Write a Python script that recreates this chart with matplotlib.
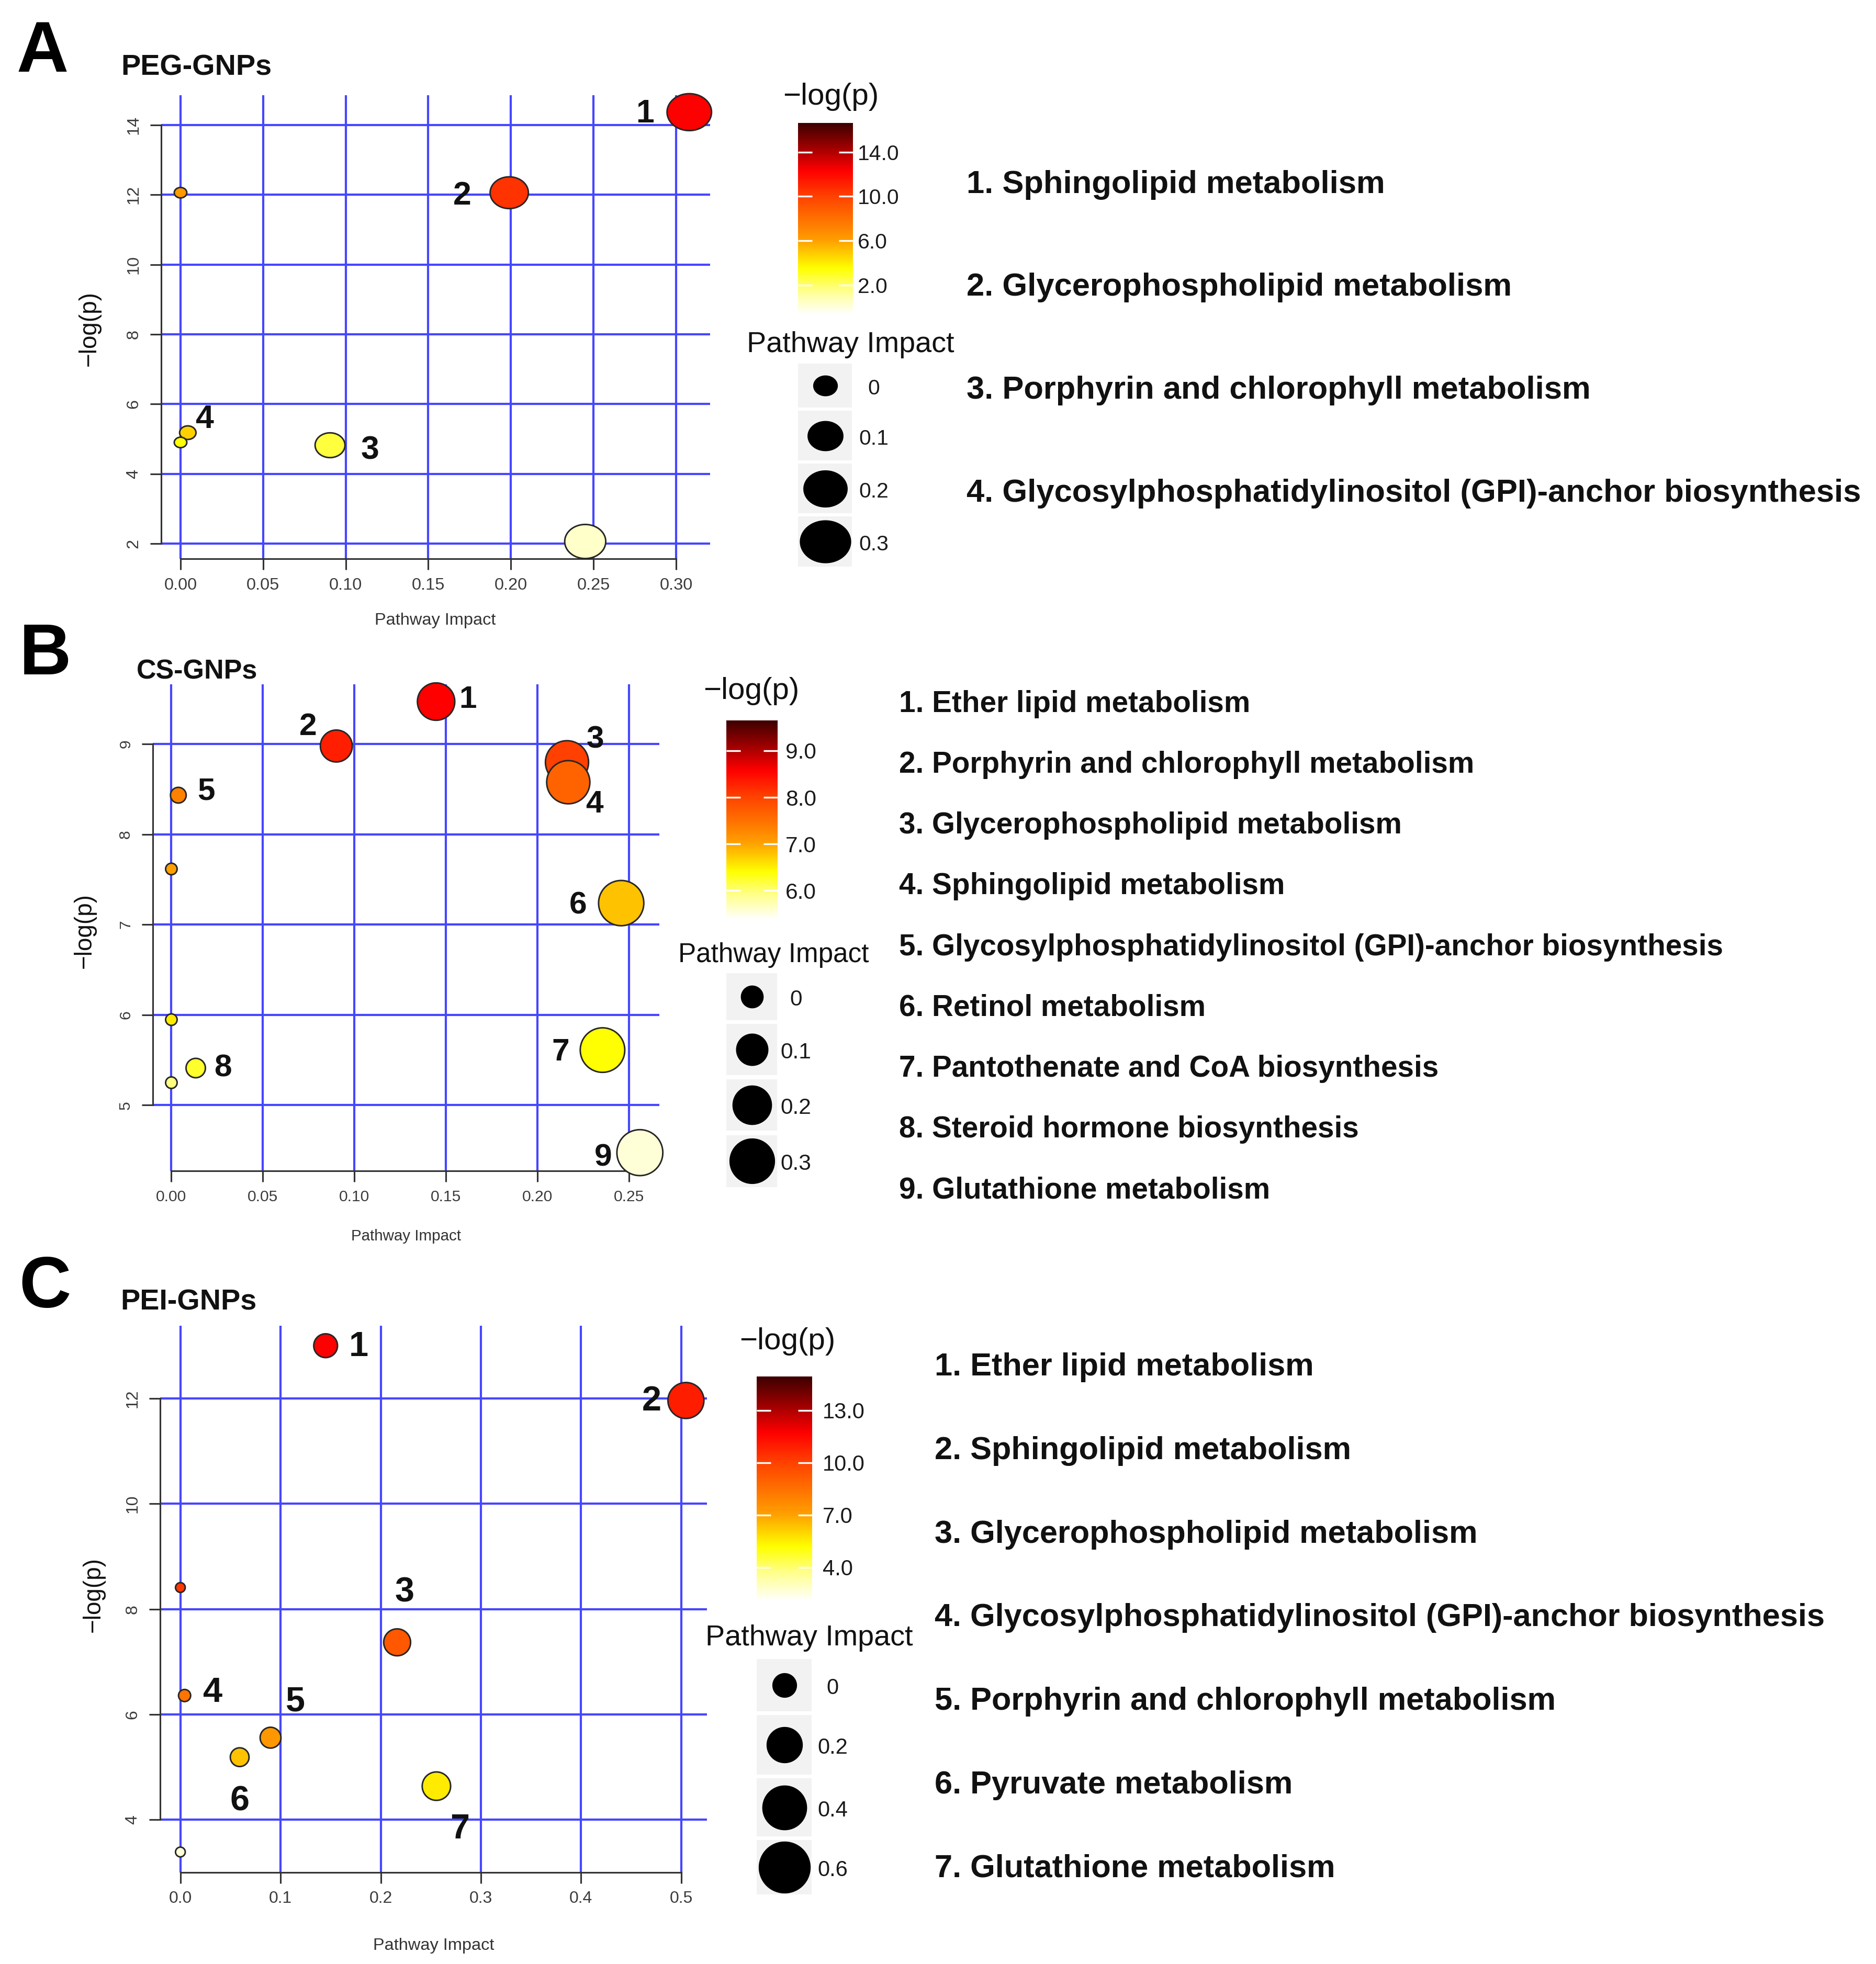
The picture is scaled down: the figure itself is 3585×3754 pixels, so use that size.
#!/usr/bin/env python3

import numpy as np
import matplotlib
matplotlib.use('Agg')
import matplotlib.pyplot as plt
from matplotlib.colors import LinearSegmentedColormap, Normalize
from matplotlib.cm import ScalarMappable
from matplotlib.path import Path
from matplotlib.patches import Rectangle

plt.rcParams['font.family'] = ['Liberation Sans', 'DejaVu Sans']

W, H, DPI = 3585, 3754, 300
PT = 72 / DPI  # points per pixel

# ---------------- data ----------------
# A: PEG-GNPs  (points drawn in order of decreasing -log(p))
impact_A = [0.308, 0.199, 0.0, 0.0044, 0.0, 0.0905, 0.245]
logp_A = [14.37, 12.06, 12.06, 5.18, 4.90, 4.82, 2.06]
cval_A = [12.31, 10.51, 6.26, 4.70, 3.40, 2.63, 0.38]   # colour read against the colour bar
tags_A = ['1', '2', '', '4', '', '3', '']
names_A = ['1. Sphingolipid metabolism',
           '2. Glycerophospholipid metabolism',
           '3. Porphyrin and chlorophyll metabolism',
           '4. Glycosylphosphatidylinositol (GPI)-anchor biosynthesis']
cticks_A = [2, 6, 10, 14]
svals_A = [0, 0.1, 0.2, 0.3]

# B: CS-GNPs
impact_B = [0.1446, 0.0901, 0.2161, 0.2168, 0.0038, 0.0, 0.2457, 0.0, 0.2355, 0.0133, 0.0, 0.2559]
logp_B = [9.469, 8.977, 8.797, 8.576, 8.432, 7.615, 7.237, 5.946, 5.609, 5.41, 5.248, 4.473]
cval_B = [8.58, 8.30, 8.02, 7.66, 7.34, 7.03, 6.80, 6.53, 6.40, 6.25, 5.94, 5.56]
tags_B = ['1', '2', '3', '4', '5', '', '6', '', '7', '8', '', '9']
names_B = ['1. Ether lipid metabolism',
           '2. Porphyrin and chlorophyll metabolism',
           '3. Glycerophospholipid metabolism',
           '4. Sphingolipid metabolism',
           '5. Glycosylphosphatidylinositol (GPI)-anchor biosynthesis',
           '6. Retinol metabolism',
           '7. Pantothenate and CoA biosynthesis',
           '8. Steroid hormone biosynthesis',
           '9. Glutathione metabolism']
cticks_B = [6, 7, 8, 9]
svals_B = [0, 0.1, 0.2, 0.3]

# C: PEI-GNPs
impact_C = [0.145, 0.5047, 0.0, 0.2164, 0.0042, 0.090, 0.0592, 0.2556, 0.0]
logp_C = [13.00, 11.96, 8.41, 7.37, 6.36, 5.56, 5.19, 4.64, 3.39]
cval_C = [11.72, 10.94, 10.24, 9.27, 8.37, 7.28, 6.38, 5.54, 2.65]
tags_C = ['1', '2', '', '3', '4', '5', '6', '7', '']
names_C = ['1. Ether lipid metabolism',
           '2. Sphingolipid metabolism',
           '3. Glycerophospholipid metabolism',
           '4. Glycosylphosphatidylinositol (GPI)-anchor biosynthesis',
           '5. Porphyrin and chlorophyll metabolism',
           '6. Pyruvate metabolism',
           '7. Glutathione metabolism']
cticks_C = [4, 7, 10, 13]
svals_C = [0, 0.2, 0.4, 0.6]

# ---------------- layout (pixel positions in the 3585x3754 canvas) ----------------
panels = [
    dict(letter=('A', 32, 137), title=('PEG-GNPs', 231, 143, 13.4),
         axes=(308, 182, 1357, 1068), xlim=(-0.01172, 0.3206), ylim=(1.565, 14.855),
         xticks=[0, 0.05, 0.10, 0.15, 0.20, 0.25, 0.30], xfmt='%.2f',
         yticks=[2, 4, 6, 8, 10, 12, 14], ticksize=7.8,
         xlabel=(832, 1186, 7.8), ylabel=(171, 628),
         impact=impact_A, logp=logp_A, cval=cval_A, tags=tags_A,
         tagxy=[(0.2812, 14.41), (0.1704, 12.06), None, (0.0146, 5.65), None, (0.1148, 4.76), None],
         rad=(12, 55), oval=0.83, tagsize=15,
         cbar=(1525.4, 234.8, 1629.6, 601.4), crange=(-0.66, 16.63), cticks=cticks_A,
         cpad=2.3, clabsize=9.8, ctitle=(1588, 185),
         stitle=(1625, 659, 13.4), keys_x=(1525.4, 1628.4),
         keys_y=[(695.3, 778.9), (785, 880), (886, 981), (987, 1083)],
         svals=svals_A, skey=(43, 23290), slab_x=1670,
         names=names_A, names_xy=(1847, 353, 196.9), names_size=14.75),
    dict(letter=('B', 37, 1289), title=('CS-GNPs', 261, 1297, 12.5),
         axes=(291.8, 1308.4, 1260.2, 2238.2), xlim=(-0.0102, 0.2666), ylim=(4.270, 9.658),
         xticks=[0, 0.05, 0.10, 0.15, 0.20, 0.25], xfmt='%.2f',
         yticks=[5, 6, 7, 8, 9], ticksize=7.2,
         xlabel=(776, 2362.7, 7.1), ylabel=(162, 1779),
         impact=impact_B, logp=logp_B, cval=cval_B, tags=tags_B,
         tagxy=[(0.1619, 9.523), (0.0747, 9.221), (0.2315, 9.081), (0.2311, 8.364), (0.0189, 8.509),
                None, (0.2220, 7.246), None, (0.2126, 5.622), (0.0280, 5.442), None, (0.2358, 4.451)],
         rad=(11, 65), oval=1.0, tagsize=14.5,
         cbar=(1388, 1377, 1485.6, 1758.3), crange=(5.37, 9.651), cticks=cticks_B,
         cpad=3.7, clabsize=10.2, ctitle=(1435.5, 1321),
         stitle=(1478, 1825, 12.3), keys_x=(1388, 1485),
         keys_y=[(1860.4, 1949.6), (1957.3, 2054.9), (2063, 2161.4), (2169.7, 2268.5)],
         svals=svals_B, skey=(39.5, 17763), slab_x=1521,
         names=names_B, names_xy=(1718.3, 1345.7, 116.2), names_size=13.6),
    dict(letter=('C', 36, 2499), title=('PEI-GNPs', 230, 2504, 13.4),
         axes=(306.3, 2533.8, 1351, 3578.7), xlim=(-0.02006, 0.5257), ylim=(3.005, 13.381),
         xticks=[0, 0.1, 0.2, 0.3, 0.4, 0.5], xfmt='%.1f',
         yticks=[4, 6, 8, 10, 12], ticksize=7.7,
         xlabel=(828.6, 3718.6, 7.8), ylabel=(178.6, 3047.6),
         impact=impact_C, logp=logp_C, cval=cval_C, tags=tags_C,
         tagxy=[(0.1782, 13.038), (0.4706, 12.009), None, (0.2239, 8.381), (0.0322, 6.478),
                (0.1147, 6.307), (0.0592, 4.420), (0.2789, 3.880), None],
         rad=(9.3, 35.3), oval=1.0, tagsize=16,
         cbar=(1446.4, 2631.4, 1552, 3060), crange=(2.07, 14.93), cticks=cticks_C,
         cpad=4.7, clabsize=10, ctitle=(1505, 2563.6),
         stitle=(1546.4, 3131.4, 13.4), keys_x=(1446.4, 1551.4),
         keys_y=[(3170.7, 3270.7), (3277.9, 3392), (3399.3, 3510), (3517, 3621)],
         svals=svals_C, skey=(43, 12000), slab_x=1591,
         names=names_C, names_xy=(1785.7, 2613.6, 159.7), names_size=14.7),
]

# white -> yellow -> orange -> red -> dark red, like the colour bars
cmap = LinearSegmentedColormap.from_list('mlogp', [
    (0.0, '#FFFFFF'), (0.12, '#FFFF90'), (0.24, '#FFFF00'), (0.385, '#FFA000'),
    (0.5, '#FF7000'), (0.62, '#FF4000'), (0.75, '#FF0000'), (0.85, '#B00000'),
    (1.0, '#3D0000')])

_t = np.linspace(0, 2 * np.pi, 120)


def oval(ratio):
    return Path(np.column_stack([np.cos(_t), ratio * np.sin(_t)]), closed=True)


def rect(l, t, r, b):
    return [l / W, 1 - b / H, (r - l) / W, (b - t) / H]


fig = plt.figure(figsize=(W / DPI, H / DPI), dpi=DPI)
fig.patch.set_facecolor('white')

# overlay axis in canvas pixels for the free text and the size legends
ov = fig.add_axes([0, 0, 1, 1], zorder=5)
ov.set_xlim(0, W)
ov.set_ylim(H, 0)
ov.axis('off')
ov.patch.set_visible(False)


def draw_panel(p):
    ax = fig.add_axes(rect(*p['axes']))
    ax.set_xlim(p['xlim'])
    ax.set_ylim(p['ylim'])
    ax.set_xticks(p['xticks'])
    ax.set_xticklabels([p['xfmt'] % v for v in p['xticks']])
    ax.set_yticks(p['yticks'])
    ax.set_yticklabels(['%d' % v for v in p['yticks']], rotation=90, va='center')
    ax.tick_params(length=21 * PT, width=0.75, color='#333333', labelcolor='#3a3a3a',
                   labelsize=p['ticksize'], pad=4)
    ax.tick_params(axis='x', pad=3.5)
    ax.grid(True, color='#4646FF', lw=1.0)
    ax.set_axisbelow(True)
    ax.patch.set_visible(False)
    for s in ['top', 'right']:
        ax.spines[s].set_visible(False)
    for s in ['left', 'bottom']:
        ax.spines[s].set_color('#333333')
        ax.spines[s].set_linewidth(0.75)
    ax.spines['left'].set_bounds(p['yticks'][0], p['yticks'][-1])
    ax.spines['bottom'].set_bounds(p['xticks'][0], p['xticks'][-1])

    norm = Normalize(*p['crange'])
    a, b = p['rad']
    imp = np.array(p['impact'])
    diam = 2 * (a + b * np.sqrt(imp)) * PT
    ax.scatter(imp, p['logp'], s=diam ** 2, c=p['cval'], cmap=cmap, norm=norm,
               marker=oval(p['oval']), edgecolors='#262626', linewidths=0.7,
               clip_on=False, zorder=3)
    fs = p['tagsize']
    for tag, xy in zip(p['tags'], p['tagxy']):
        if tag and xy:
            ax.annotate(tag, xy, xytext=(0, -0.358 * fs), textcoords='offset points',
                        ha='center', va='baseline', fontsize=fs, fontweight='bold',
                        color='#111111', annotation_clip=False)

    # letters, titles, axis labels
    ltr, lx, ly = p['letter']
    ov.text(lx, ly, ltr, fontsize=33, fontweight='bold', va='baseline', ha='left')
    tt, tx, ty, tfs = p['title']
    ov.text(tx, ty, tt, fontsize=tfs, fontweight='bold', va='baseline', ha='left',
            color='#111111')
    xl, yl, xfs = p['xlabel']
    ov.text(xl, yl, 'Pathway Impact', fontsize=xfs, ha='center', va='center', color='#333333')
    ov.text(p['ylabel'][0], p['ylabel'][1], '\u2212log(p)', fontsize=11, rotation=90,
            ha='center', va='center', color='#111111')

    # colour bar
    cax = fig.add_axes(rect(*p['cbar']))
    cb = fig.colorbar(ScalarMappable(norm=norm, cmap=cmap), cax=cax, ticks=p['cticks'])
    cb.outline.set_visible(False)
    cax.set_yticklabels(['%.1f' % v for v in p['cticks']])
    cax.tick_params(axis='y', which='major', direction='in', length=27 * PT, width=0.8,
                    color='white', left=True, right=True, labelleft=False, labelright=True,
                    pad=p['cpad'], labelsize=p['clabsize'], labelcolor='#1a1a1a')
    cax.minorticks_off()
    ov.text(p['ctitle'][0], p['ctitle'][1], '\u2212log(p)', fontsize=14, ha='center',
            va='center', color='#111111')

    # size legend
    sx, sy, sfs = p['stitle']
    ov.text(sx, sy, 'Pathway Impact', fontsize=sfs, ha='center', va='center', color='#111111')
    kl, kr = p['keys_x']
    d0, k = p['skey']
    for (kt, kb), v in zip(p['keys_y'], p['svals']):
        ov.add_patch(Rectangle((kl, kt), kr - kl, kb - kt, facecolor='#F2F2F2',
                               edgecolor='none', zorder=1))
        cy = (kt + kb) / 2
        d = np.sqrt(d0 ** 2 + k * v) * PT
        ov.scatter([(kl + kr) / 2], [cy], s=d ** 2, marker=oval(p['oval']),
                   color='black', zorder=2)
        ov.text(p['slab_x'], cy + 6, '%g' % v, fontsize=p['clabsize'], ha='center',
                va='center', color='#1a1a1a')

    # pathway names
    nx, ny, step = p['names_xy']
    for i, name in enumerate(p['names']):
        ov.text(nx, ny + i * step, name, fontsize=p['names_size'], fontweight='bold',
                ha='left', va='center', color='#111111')


for p in panels:
    draw_panel(p)

fig.savefig('out.png', dpi=DPI, facecolor='white')
